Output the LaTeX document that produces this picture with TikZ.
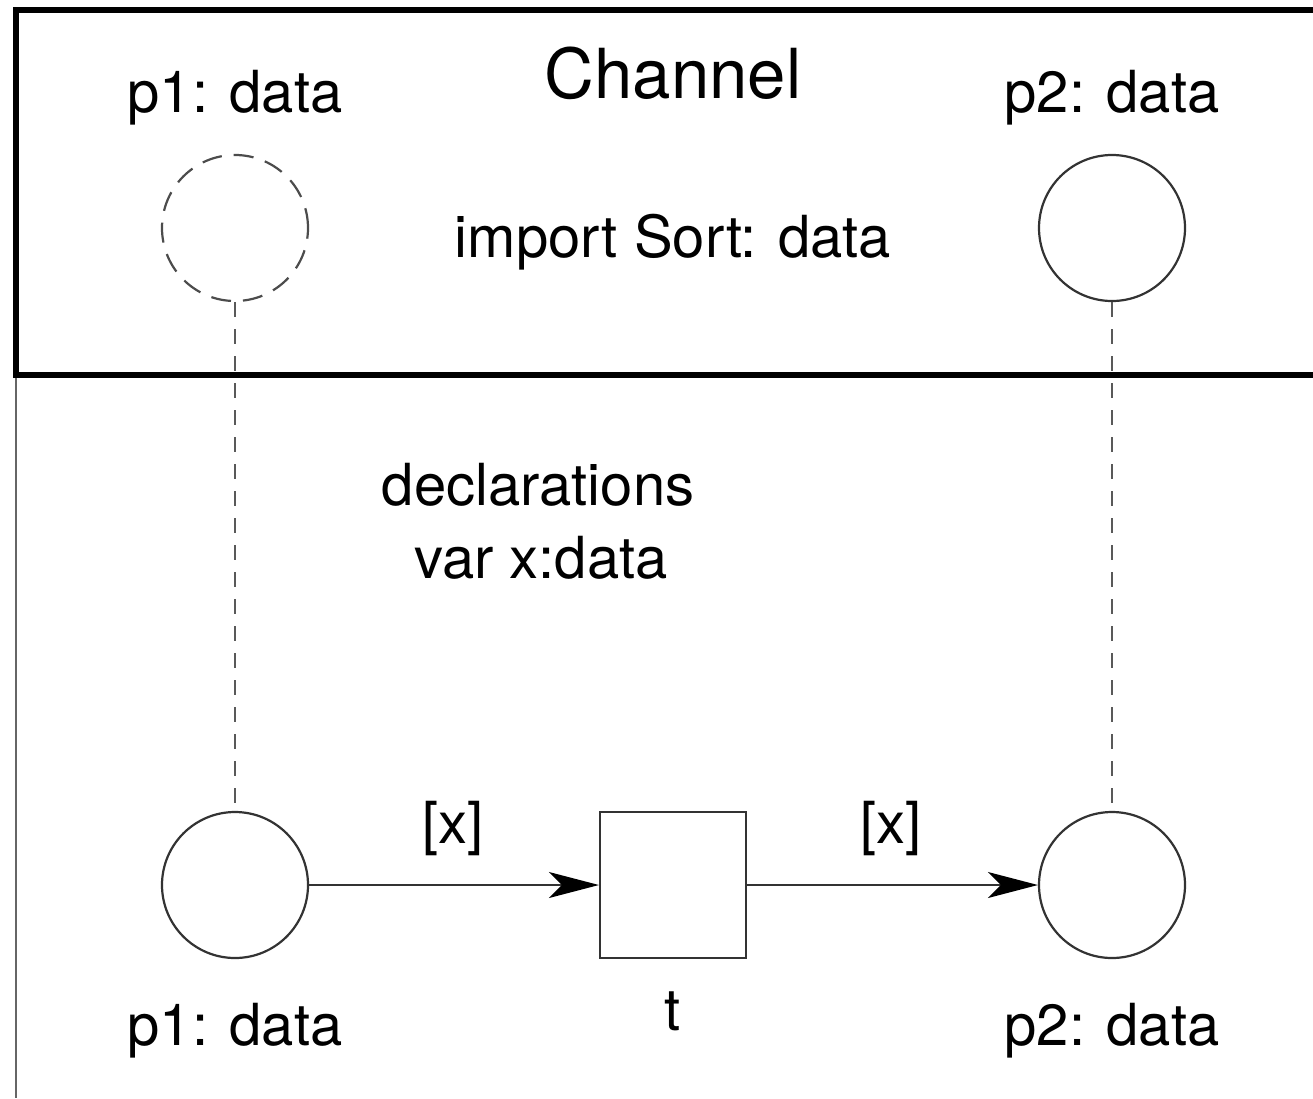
\documentclass[tikz,border=0pt]{standalone}
\usepackage{fontspec}
\setmainfont{TeX Gyre Heros}
\usetikzlibrary{arrows.meta}
\begin{document}
\begin{tikzpicture}[x=1pt,y=-1pt,
  txt/.style={inner sep=0pt,anchor=base,font=\fontsize{58}{70}\selectfont},
  place/.style={circle,draw=black!80,line width=2.2pt,minimum size=146pt,inner sep=0pt},
  vplace/.style={circle,draw=black!70,line width=2.2pt,dash pattern=on 20pt off 12pt,minimum size=146pt,inner sep=0pt},
  trans/.style={rectangle,draw=black!80,line width=2.2pt,minimum size=146pt,inner sep=0pt},
  arc/.style={draw=black!80,line width=2.2pt,-{Stealth[length=50pt,width=26pt,inset=13pt,black]}},
  link/.style={draw=black!65,line width=2.2pt,dash pattern=on 15pt off 12pt}]
\useasboundingbox (0,0) rectangle (1313,1098);
% frame
\draw[black!60,line width=2.5pt] (16,375) -- (16,1098);
\draw[black,line width=6pt] (1330,10) -- (16,10) -- (16,375) -- (1330,375);
% texts in module
\node[txt] (tp1) at (235,112) {p1: data};
\node[txt,font=\fontsize{69}{80}\selectfont] (chan) at (673,98) {Channel};
\node[txt] (tp2) at (1112,112) {p2: data};
\node[txt] (imp) at (673,257) {import Sort: data};
\node[txt] (decl) at (538,505) {declarations};
\node[txt] (var) at (541,578) {var x:data};
% places
\node[vplace] (vp1) at (235,228) {};
\node[place] (vp2) at (1112,228) {};
\node[place] (p1) at (235,885) {};
\node[place] (p2) at (1112,885) {};
\node[trans] (t) at (673,885) {};
% labels
\node[txt] (lp1) at (235,1045) {p1: data};
\node[txt] (lp2) at (1112,1045) {p2: data};
\node[txt] (lt) at (673,1030) {t};
\node[txt] (a1) at (453,843) {[x]};
\node[txt] (a2) at (891,843) {[x]};
% connectors
\draw[link] (vp1.south) -- (p1.north);
\draw[link] (vp2.south) -- (p2.north);
\draw[arc] (p1.east) -- (t.west);
\draw[arc] (t.east) -- (p2.west);
\end{tikzpicture}
\end{document}
